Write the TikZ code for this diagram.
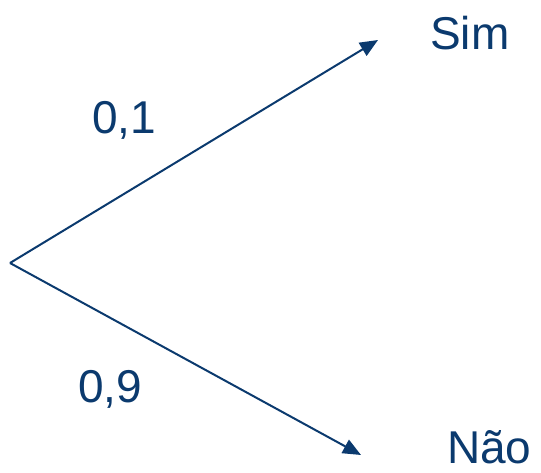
\documentclass[tikz,border=0pt]{standalone}
\usepackage{fontspec}
\setmainfont{Liberation Sans}
\usetikzlibrary{arrows.meta}
\definecolor{navy}{HTML}{0B3A6E}
\begin{document}
\begin{tikzpicture}[x=1pt,y=-1pt,
  branch/.style={draw=navy,line width=2pt,-{Triangle[length=18pt,width=15pt]}},
  lab/.style={text=navy,font=\fontsize{46}{50}\selectfont,inner sep=0pt,anchor=base west}]
\useasboundingbox (0,0) rectangle (541,472);
\coordinate (o) at (10,263);
\coordinate (a) at (378,40);
\coordinate (b) at (361,455);
\draw[branch] (o) -- (a);
\draw[branch] (o) -- (b);
\node[lab] (sim) at (430,49) {Sim};
\node[lab] (nao) at (447,463) {Não};
\node[lab] (p1) at (92,133) {0,1};
\node[lab] (p9) at (78,402) {0,9};
\end{tikzpicture}
\end{document}
